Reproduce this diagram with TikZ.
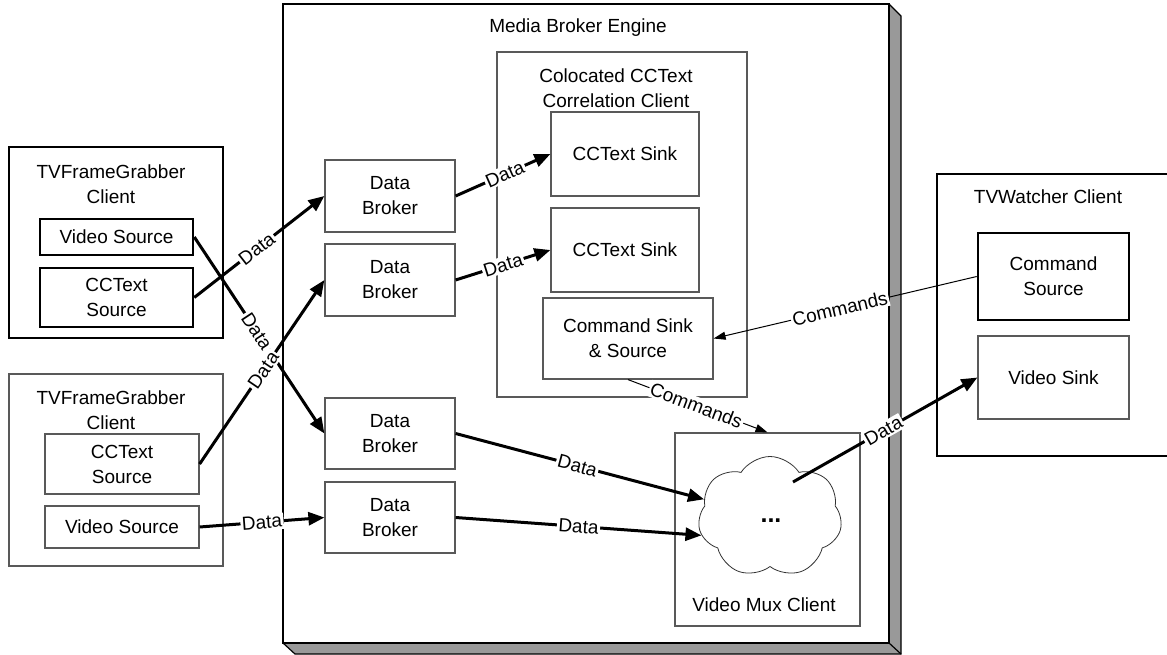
\documentclass[tikz,border=0pt]{standalone}
\usepackage{fontspec}
\setmainfont{Liberation Sans}
\usetikzlibrary{shapes.symbols,arrows.meta}
\begin{document}
\begin{tikzpicture}[x=1pt,y=-1pt,
  every node/.style={font=\fontsize{19}{25}\selectfont},
  thinbox/.style={draw=black!65, line width=1.2pt, fill=white, inner sep=0pt, align=center},
  boldbox/.style={draw=black, line width=2.6pt, fill=white, inner sep=0pt, align=center},
  titletext/.style={align=center, inner sep=0pt},
  flow/.style={line width=3pt, -{Triangle[length=16pt,width=13pt]}},
  cmd/.style={line width=1pt, -{Triangle[length=12pt,width=8pt]}},
  lbl/.style={fill=white, inner sep=1.5pt, sloped}
]
\useasboundingbox (0,0) rectangle (1167,655);

% Media Broker Engine with 3D shadow
\filldraw[fill=black!40, draw=black, line width=1.2pt] (889,4) -- (901,16) -- (901,654) -- (295,654) -- (283,643) -- cycle;
\draw[line width=1.2pt] (889,643) -- (901,654);
\node[draw=black, line width=2.6pt, fill=white, inner sep=0pt, minimum width=606pt, minimum height=639pt] (mbe) at (586,323.5) {};
\node[titletext] (mbetitle) at (578,28) {Media Broker Engine};

% TVFrameGrabber Client 1
\node[boldbox, minimum width=214pt, minimum height=191pt] (cl1) at (116,242.5) {};
\node[titletext] (cl1title) at (111,184.5) {TVFrameGrabber\\Client};
\node[boldbox, minimum width=153pt, minimum height=36pt] (c1v) at (116.5,237) {Video Source};
\node[boldbox, minimum width=153pt, minimum height=59pt] (c1c) at (116.5,297.5) {CCText\\Source};

% TVFrameGrabber Client 2
\node[thinbox, minimum width=214pt, minimum height=192pt] (cl2) at (116,470) {};
\node[titletext] (cl2title) at (111,410.5) {TVFrameGrabber\\Client};
\node[thinbox, minimum width=154pt, minimum height=60pt] (c2c) at (122,464) {CCText\\Source};
\node[thinbox, minimum width=154pt, minimum height=42pt] (c2v) at (122,527) {Video Source};

% Data Brokers
\node[thinbox, minimum width=130pt, minimum height=72pt] (db1) at (390,196) {Data\\Broker};
\node[thinbox, minimum width=130pt, minimum height=72pt] (db2) at (390,280) {Data\\Broker};
\node[thinbox, minimum width=130pt, minimum height=71pt] (db3) at (390,433.5) {Data\\Broker};
\node[thinbox, minimum width=130pt, minimum height=71pt] (db4) at (390,517.5) {Data\\Broker};

% Colocated CCText Correlation Client
\node[thinbox, minimum width=250pt, minimum height=345pt] (ccc) at (622,224.5) {};
\node[titletext] (ccctitle) at (616,88) {Colocated CCText\\Correlation Client};
\node[thinbox, minimum width=148pt, minimum height=84pt] (sink1) at (625,154) {CCText Sink};
\node[thinbox, minimum width=148pt, minimum height=84pt] (sink2) at (625,250) {CCText Sink};
\node[thinbox, minimum width=170pt, minimum height=81pt] (cmdss) at (628,338.5) {Command Sink\\\& Source};

% Video Mux Client
\node[thinbox, minimum width=185pt, minimum height=193pt] (vmc) at (767.5,529.5) {};
\node[titletext] (vmctitle) at (764,605) {Video Mux Client};
\node[cloud, draw=black!80, line width=0.8pt, fill=white, cloud puffs=7, cloud puff arc=115, aspect=1.19, minimum width=144pt, minimum height=121pt, inner sep=0pt] (cloud) at (770,517) {};
\node[titletext, font=\fontsize{25}{30}\selectfont\bfseries] (dots) at (771,521) {...};
\coordinate (cloudout) at (793,482);

% TVWatcher Client
\node[boldbox, minimum width=233pt, minimum height=282pt] (tvw) at (1053.5,315) {};
\node[titletext] (tvwtitle) at (1048,197) {TVWatcher Client};
\node[boldbox, minimum width=151pt, minimum height=87pt] (cmdsrc) at (1053.5,276.5) {Command\\Source};
\node[thinbox, minimum width=151pt, minimum height=83pt] (vidsink) at (1053.5,377.5) {Video Sink};

% Connectors
\draw[flow] (c1c.east) -- node[lbl,pos=0.48]{Data} (db1.west);
\draw[flow] (c1v.east) -- node[lbl,pos=0.48]{Data} (db3.west);
\draw[flow] (c2c.east) -- node[lbl,pos=0.51]{Data} (db2.west);
\draw[flow] (c2v.east) -- node[lbl,pos=0.5]{Data} (db4.west);
\draw[flow] (db1.east) -- node[lbl,pos=0.52]{Data} (sink1.west);
\draw[flow] (db2.east) -- node[lbl,pos=0.5]{Data} (sink2.west);
\draw[flow] (db3.east) -- node[lbl,pos=0.49]{Data} (cloud.165);
\draw[flow] (db4.east) -- node[lbl,pos=0.5]{Data} (cloud.195);
\draw[flow] (cloudout) -- node[lbl,pos=0.49]{Data} (vidsink.west);
\draw[cmd] (cmdsrc.west) -- node[lbl,pos=0.52]{Commands} (cmdss.east);
\draw[cmd] (cmdss.south) -- node[lbl,pos=0.49]{Commands} (vmc.north);
\end{tikzpicture}
\end{document}
